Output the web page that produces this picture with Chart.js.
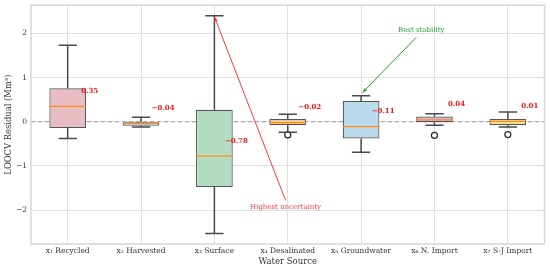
<!DOCTYPE html>
<html>
<head>
<meta charset="utf-8">
<script src="https://cdn.jsdelivr.net/npm/chart.js@4.4.1/dist/chart.umd.min.js"></script>
<style>
  html, body { margin: 0; padding: 0; background: #fff; }
  #wrap { width: 550px; height: 268px; }
</style>
</head>
<body>
<div id="wrap"><canvas id="c"></canvas></div>
<script>
const categories = ["x\u2081 Recycled", "x\u2082 Harvested", "x\u2083 Surface", "x\u2084 Desalinated", "x\u2085 Groundwater", "x\u2086 N. Import", "x\u2087 S-J Import"]
const whiskerLow = [-0.38, -0.12, -2.53, -0.24, -0.69, -0.08, -0.12]
const q1 = [-0.14, -0.09, -1.48, -0.08, -0.38, -0.01, -0.08]
const medians = [0.35, -0.04, -0.78, -0.02, -0.11, 0.04, 0.01]
const q3 = [0.76, 0.0, 0.27, 0.06, 0.47, 0.12, 0.06]
const whiskerHigh = [1.73, 0.10, 2.40, 0.17, 0.59, 0.18, 0.22]
const outliers = [
  { x: categories[3], y: -0.30 },
  { x: categories[5], y: -0.31 },
  { x: categories[6], y: -0.29 },
]
const medianLabels = ["0.35", "\u22120.04", "\u22120.78", "\u22120.02", "\u22120.11", "0.04", "0.01"]
const boxColors = ["#e8bcc3", "#ede3cf", "#b4dcc1", "#f6c995", "#b9dbeb", "#d4b3e3", "#f5df8c"]

// annotations: text position and arrow tip, in data units (x = category index)
const notes = [
  { text: "Highest uncertainty", color: "#f03c3c", tx: 2.97, ty: -1.93, fromX: 2.97, fromY: -1.78, toX: 2.0, toY: 2.38 },
  { text: "Best stability", color: "#2a9d2a", tx: 4.82, ty: 2.07, fromX: 4.75, fromY: 1.91, toX: 4.02, toY: 0.66 },
]

const serif = "'DejaVu Serif', serif"

const boxParts = {
  id: "boxParts",
  beforeDatasetsDraw(chart) {
    const { ctx, chartArea: a, scales: { y } } = chart
    // dashed zero line
    ctx.save()
    ctx.strokeStyle = "#9a9a9a"
    ctx.lineWidth = 1
    ctx.setLineDash([4, 3])
    const y0 = y.getPixelForValue(0)
    ctx.beginPath()
    ctx.moveTo(a.left, y0)
    ctx.lineTo(a.right, y0)
    ctx.stroke()
    ctx.restore()
  },
  afterDatasetsDraw(chart) {
    const { ctx, chartArea: a, scales: { x, y } } = chart
    const step = x.getPixelForValue(1) - x.getPixelForValue(0)
    const cap = step * 0.125
    const boxHalf = step * 0.25
    ctx.save()
    categories.forEach((c, i) => {
      const cx = x.getPixelForValue(i)
      // whiskers
      ctx.strokeStyle = "#4a4a4a"
      ctx.lineWidth = 1.5
      ctx.beginPath()
      ctx.moveTo(cx, y.getPixelForValue(q3[i]))
      ctx.lineTo(cx, y.getPixelForValue(whiskerHigh[i]))
      ctx.moveTo(cx, y.getPixelForValue(q1[i]))
      ctx.lineTo(cx, y.getPixelForValue(whiskerLow[i]))
      ctx.moveTo(cx - cap, y.getPixelForValue(whiskerHigh[i]))
      ctx.lineTo(cx + cap, y.getPixelForValue(whiskerHigh[i]))
      ctx.moveTo(cx - cap, y.getPixelForValue(whiskerLow[i]))
      ctx.lineTo(cx + cap, y.getPixelForValue(whiskerLow[i]))
      ctx.stroke()
      // median
      ctx.strokeStyle = "#ff8c1a"
      ctx.lineWidth = 1.2
      ctx.beginPath()
      ctx.moveTo(cx - boxHalf, y.getPixelForValue(medians[i]))
      ctx.lineTo(cx + boxHalf, y.getPixelForValue(medians[i]))
      ctx.stroke()
      // median label
      ctx.fillStyle = "#f01818"
      ctx.font = "bold 7px " + serif
      ctx.textAlign = "center"
      ctx.textBaseline = "middle"
      ctx.fillText(medianLabels[i], x.getPixelForValue(i + 0.3), y.getPixelForValue(medians[i] + 0.35))
    })
    // annotations
    notes.forEach((n) => {
      const x1 = x.getPixelForValue(n.fromX), y1 = y.getPixelForValue(n.fromY)
      const x2 = x.getPixelForValue(n.toX), y2 = y.getPixelForValue(n.toY)
      ctx.strokeStyle = n.color
      ctx.fillStyle = n.color
      ctx.lineWidth = 1
      ctx.beginPath()
      ctx.moveTo(x1, y1)
      ctx.lineTo(x2, y2)
      ctx.stroke()
      const ang = Math.atan2(y2 - y1, x2 - x1)
      ctx.beginPath()
      ctx.moveTo(x2, y2)
      ctx.lineTo(x2 - 5 * Math.cos(ang - 0.35), y2 - 5 * Math.sin(ang - 0.35))
      ctx.lineTo(x2 - 5 * Math.cos(ang + 0.35), y2 - 5 * Math.sin(ang + 0.35))
      ctx.closePath()
      ctx.fill()
      ctx.font = "7px " + serif
      ctx.textAlign = "center"
      ctx.textBaseline = "middle"
      ctx.fillText(n.text, x.getPixelForValue(n.tx), y.getPixelForValue(n.ty))
    })
    // frame
    ctx.strokeStyle = "#d6d6d6"
    ctx.lineWidth = 1.5
    ctx.strokeRect(a.left, a.top, a.right - a.left, a.bottom - a.top)
    ctx.restore()
  },
}

new Chart(document.getElementById("c"), {
  data: {
    labels: categories,
    datasets: [
      {
        type: "bar",
        data: categories.map((c, i) => [q1[i], q3[i]]),
        backgroundColor: boxColors,
        borderColor: "#555555",
        borderWidth: 1.2,
        borderSkipped: false,
        barPercentage: 0.5,
        categoryPercentage: 1,
      },
      {
        type: "line",
        data: outliers,
        showLine: false,
        pointRadius: 3,
        pointBackgroundColor: "#ffffff",
        pointBorderColor: "#222222",
        pointBorderWidth: 1.2,
      },
    ],
  },
  options: {
    responsive: true,
    maintainAspectRatio: false,
    animation: false,
    layout: { padding: { top: 5, right: 5.5, left: 0, bottom: 0 } },
    plugins: {
      legend: { display: false },
      tooltip: { enabled: false },
    },
    scales: {
      x: {
        type: "category",
        offset: true,
        afterFit: (s) => { s.height = 24; s.paddingLeft = 0; s.paddingRight = 0 },
        grid: { offset: false, color: "#e0e0e0", lineWidth: 1, drawTicks: false },
        border: { display: false },
        ticks: { color: "#333", font: { family: serif, size: 7.5 }, padding: 3, maxRotation: 0, autoSkip: false },
        title: { display: true, text: "Water Source", color: "#333", font: { family: serif, size: 8.5 }, padding: { top: 0, bottom: 1 } },
      },
      y: {
        min: -2.77,
        max: 2.64,
        afterFit: (s) => { s.width = 31; s.paddingTop = 0; s.paddingBottom = 0 },
        grid: { color: "#e0e0e0", lineWidth: 1, drawTicks: false },
        border: { display: false },
        ticks: {
          stepSize: 1,
          includeBounds: false,
          color: "#333",
          padding: 4,
          font: { family: serif, size: 7.5 },
          callback: (v) => (v < 0 ? "\u2212" + Math.abs(v) : String(v)),
        },
        title: { display: true, text: "LOOCV Residual (Mm\u00b3)", color: "#333", font: { family: serif, size: 8.4 }, padding: { top: 4, bottom: 0 } },
      },
    },
  },
  plugins: [boxParts],
})
</script>
</body>
</html>
